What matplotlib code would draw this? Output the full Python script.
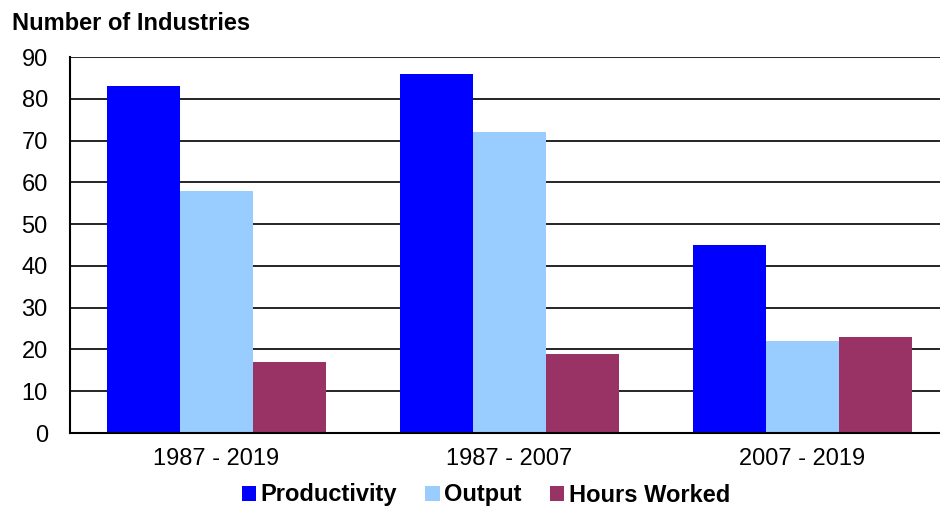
import numpy as np
import matplotlib.pyplot as plt

plt.rcParams['font.family'] = ['Liberation Sans', 'DejaVu Sans']

periods = ['1987 - 2019', '1987 - 2007', '2007 - 2019']
series = ['Productivity', 'Output', 'Hours Worked']
productivity = [83, 86, 45]
output = [58, 72, 22]
hours_worked = [17, 19, 23]
colors = ['#0000FF', '#99CCFF', '#993366']

fig = plt.figure(figsize=(9.4, 5.08), dpi=100)
ax = fig.add_axes([70/940, 1-433/508, 879/940, (433-57)/508])

x = np.arange(len(periods))
w = 0.249
for i, (vals, c, lab) in enumerate(zip([productivity, output, hours_worked], colors, series)):
    ax.bar(x + (i-1)*w, vals, w, color=c, label=lab, zorder=2)

ax.set_xlim(-0.5, 2.5)
ax.set_ylim(0, 90)
ax.set_yticks(range(0, 91, 10))
ax.set_xticks(x)
ax.set_xticklabels(periods)
ax.tick_params(length=0, labelsize=17)
ax.tick_params(axis='x', pad=11)
ax.tick_params(axis='y', pad=16)
ax.yaxis.grid(True, color='black', linewidth=1.2, zorder=0)
ax.set_axisbelow(True)
for s in ['top', 'right']:
    ax.spines[s].set_visible(False)
ax.spines['left'].set_linewidth(1.5)
ax.spines['bottom'].set_linewidth(1.5)

fig.text(12/940, 1-24/508, 'Number of Industries', fontsize=17, fontweight='bold', va='center')

leg = fig.legend(loc='center', bbox_to_anchor=(486/940, 1-495/508), ncol=3, frameon=False,
                 prop={'weight': 'bold', 'size': 17}, handlelength=0.6, handleheight=0.6,
                 handletextpad=0.2, columnspacing=1.2)

fig.savefig('out.png', dpi=100)
